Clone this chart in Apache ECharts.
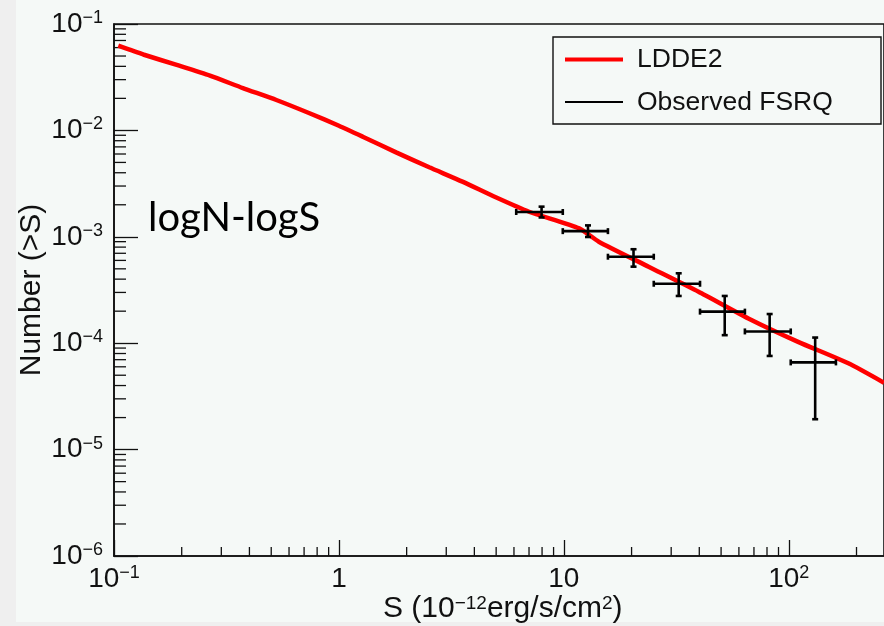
<!DOCTYPE html>
<html>
<head>
<meta charset="utf-8">
<script src="https://cdn.jsdelivr.net/npm/echarts@6/dist/echarts.min.js"></script>
<style>
  html, body { margin: 0; padding: 0; background: #efefef; }
  #canvasBg { position: absolute; left: 16px; top: 0; width: 868px; height: 622px; background: #f5f9f7; }
  #chart { position: absolute; left: 0; top: 0; width: 884px; height: 626px; }
</style>
</head>
<body>
<div id="canvasBg"></div>
<div id="chart"></div>
<script>
// ---- Data ----
// LDDE2 model curve: flux S (1e-12 erg/s/cm2) and N(>S)
const curveS = [0.1045, 0.1349, 0.190, 0.267, 0.374, 0.527, 0.740, 1.00, 1.276, 1.795, 2.52, 3.54, 4.98, 7.00, 11.7, 14.3, 23.8, 39.7, 66.1, 110, 184, 265];
const curveN = [0.0625, 0.0517, 0.0412, 0.0327, 0.0250, 0.0193, 0.01449, 0.01107, 0.00873, 0.00622, 0.00450, 0.00330, 0.00235, 0.00172, 0.00120, 9.0e-4, 5.24e-4, 3.05e-4, 1.71e-4, 1.03e-4, 6.47e-5, 4.25e-5];

// Observed FSRQ points with errors
const obsS    = [7.96, 12.8, 20.4, 32.4, 51.9, 82.2, 131];
const obsSlo  = [6.14, 9.89, 15.7, 25.1, 40.3, 63.8, 102];
const obsShi  = [9.89, 15.7, 25.1, 40.3, 63.8, 102, 162];
const obsN    = [1.71e-3, 1.13e-3, 6.5e-4, 3.62e-4, 1.98e-4, 1.29e-4, 6.6e-5];
const obsNlo  = [1.52e-3, 9.96e-4, 5.24e-4, 2.78e-4, 1.19e-4, 7.59e-5, 1.93e-5];
const obsNhi  = [1.92e-3, 1.28e-3, 7.64e-4, 4.54e-4, 2.78e-4, 1.88e-4, 1.13e-4];

// Axis ranges and minor tick values
const xMin = 0.1, xMax = 265;
const yMin = 1e-6, yMax = 0.1;
const xMinorTicks = [0.2,0.3,0.4,0.5,0.6,0.7,0.8,0.9, 2,3,4,5,6,7,8,9, 20,30,40,50,60,70,80,90, 200];
const yMinorTicks = [];
[1e-6,1e-5,1e-4,1e-3,1e-2].forEach(function(d){ [2,3,4,5,6,7,8,9].forEach(function(m){ yMinorTicks.push(m*d); }); });

const legendNames = ['LDDE2', 'Observed FSRQ'];

const FONT = '"Liberation Sans", Arial, Helvetica, sans-serif';
const INK = '#111';

function powLabel(v, allowPlain) {
  const e = Math.log10(v);
  const r = Math.round(e);
  if (Math.abs(e - r) > 1e-6) return '';
  if (allowPlain && r === 0) return '{b|1}';
  if (allowPlain && r === 1) return '{b|10}';
  return '{b|10}{s|' + (r < 0 ? '\u2212' + (-r) : '' + r) + '}';
}
const richLabel = {
  b: { fontSize: 28, fontFamily: FONT, color: INK, lineHeight: 30 },
  s: { fontSize: 18, fontFamily: FONT, color: INK, verticalAlign: 'top', lineHeight: 16 }
};

const chart = echarts.init(document.getElementById('chart'), null, { renderer: 'canvas' });

const curveData = curveS.map(function(s, i){ return [s, curveN[i]]; });
const obsData = obsS.map(function(s, i){ return [s, obsN[i], obsSlo[i], obsShi[i], obsNlo[i], obsNhi[i]]; });
const xTickData = xMinorTicks.map(function(v){ return [v, yMin]; });
const yTickData = yMinorTicks.map(function(v){ return [xMin, v]; });

const option = {
  backgroundColor: 'transparent',
  animation: false,
  grid: { left: 114, top: 24, right: -2, bottom: 70, show: true, borderColor: INK, borderWidth: 1.6, backgroundColor: 'transparent' },
  xAxis: {
    type: 'log', logBase: 10, min: xMin, max: xMax,
    axisLine: { show: true, lineStyle: { color: INK, width: 1.6 } },
    axisTick: { show: true, inside: true, length: 16, lineStyle: { color: INK, width: 1.3 } },
    minorTick: { show: false },
    splitLine: { show: false },
    axisLabel: { margin: 8, formatter: function(v){ return powLabel(v, true); }, rich: richLabel, hideOverlap: false, showMaxLabel: false }
  },
  yAxis: {
    type: 'log', logBase: 10, min: yMin, max: yMax,
    axisLine: { show: true, lineStyle: { color: INK, width: 1.6 } },
    axisTick: { show: true, inside: true, length: 24, lineStyle: { color: INK, width: 1.3 } },
    minorTick: { show: false },
    splitLine: { show: false },
    axisLabel: { margin: 11, formatter: function(v){ return powLabel(v, false); }, rich: richLabel }
  },
  series: [
    {
      name: legendNames[0], type: 'line', data: curveData, showSymbol: false, symbol: 'none', smooth: 0.2,
      lineStyle: { color: '#ff0000', width: 4.5 }, z: 3
    },
    {
      name: legendNames[1], type: 'custom', data: obsData, z: 4, clip: false,
      encode: { x: 0, y: 1 },
      renderItem: function(params, api) {
        const c = api.coord([api.value(0), api.value(1)]);
        const xl = api.coord([api.value(2), api.value(1)])[0];
        const xr = api.coord([api.value(3), api.value(1)])[0];
        const yb = api.coord([api.value(0), api.value(4)])[1];
        const yt = api.coord([api.value(0), api.value(5)])[1];
        const st = { stroke: '#000', lineWidth: 2.6 };
        const cap = 3;
        return { type: 'group', children: [
          { type: 'line', shape: { x1: xl, y1: c[1], x2: xr, y2: c[1] }, style: st },
          { type: 'line', shape: { x1: c[0], y1: yt, x2: c[0], y2: yb }, style: st },
          { type: 'line', shape: { x1: xl, y1: c[1]-cap, x2: xl, y2: c[1]+cap }, style: st },
          { type: 'line', shape: { x1: xr, y1: c[1]-cap, x2: xr, y2: c[1]+cap }, style: st },
          { type: 'line', shape: { x1: c[0]-cap, y1: yt, x2: c[0]+cap, y2: yt }, style: st },
          { type: 'line', shape: { x1: c[0]-cap, y1: yb, x2: c[0]+cap, y2: yb }, style: st }
        ]};
      }
    },
    {
      type: 'custom', data: xTickData, z: 2, clip: false, silent: true,
      renderItem: function(params, api) {
        const p = api.coord([api.value(0), api.value(1)]);
        return { type: 'line', shape: { x1: p[0], y1: p[1], x2: p[0], y2: p[1] - 9 }, style: { stroke: INK, lineWidth: 1.3 } };
      }
    },
    {
      type: 'custom', data: yTickData, z: 2, clip: false, silent: true,
      renderItem: function(params, api) {
        const p = api.coord([api.value(0), api.value(1)]);
        return { type: 'line', shape: { x1: p[0], y1: p[1], x2: p[0] + 12, y2: p[1] }, style: { stroke: INK, lineWidth: 1.3 } };
      }
    }
  ],
  graphic: [
    // Legend box
    { type: 'rect', shape: { x: 553, y: 37, width: 328, height: 87 }, style: { fill: '#f5f9f7', stroke: INK, lineWidth: 1.4 }, z: 10 },
    { type: 'line', shape: { x1: 565, y1: 59.5, x2: 623, y2: 59.5 }, style: { stroke: '#ff0000', lineWidth: 4 }, z: 11 },
    { type: 'line', shape: { x1: 565, y1: 102, x2: 623, y2: 102 }, style: { stroke: '#000', lineWidth: 2 }, z: 11 },
    { type: 'text', x: 637, y: 60, style: { text: legendNames[0], font: '26.5px ' + FONT, fill: INK, textVerticalAlign: 'middle' }, z: 11 },
    { type: 'text', x: 637, y: 103, style: { text: legendNames[1], font: '26.5px ' + FONT, fill: INK, textVerticalAlign: 'middle' }, z: 11 },
    // Axis titles
    { type: 'text', x: 32, y: 290, rotation: Math.PI / 2, style: { text: 'Number (>S)', font: '30px ' + FONT, fill: INK, textAlign: 'center', textVerticalAlign: 'middle' }, z: 11 },
    { type: 'text', x: 383, y: 594, style: { text: '{m|S (10}{s|\u221212}{m|erg/s/cm}{s|2}{m|)}', rich: {
        m: { fontSize: 30, fontFamily: FONT, fill: INK, lineHeight: 30 },
        s: { fontSize: 19, fontFamily: FONT, fill: INK, verticalAlign: 'top', lineHeight: 17 } } }, z: 11 },
    // Annotation
    { type: 'text', x: 148, y: 218, style: { text: 'logN-logS', font: '40px Lato, "Open Sans", sans-serif', fill: '#000', textVerticalAlign: 'middle' }, z: 11 }
  ]
};
chart.setOption(option);
</script>
</body>
</html>
